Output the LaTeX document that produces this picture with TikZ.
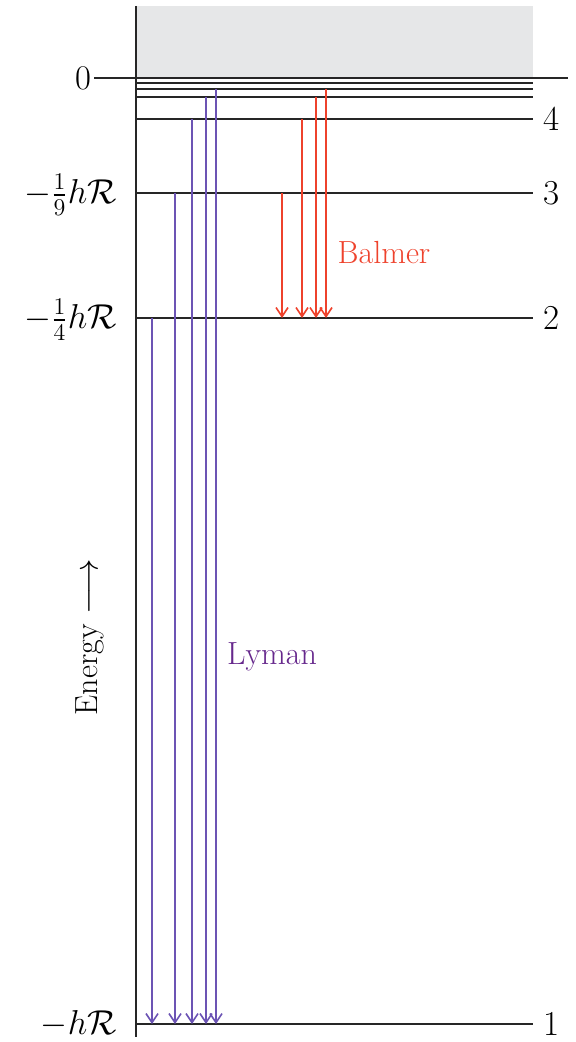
\documentclass[tikz,border=0pt]{standalone}
\usepackage{xcolor}
\usepackage{amsmath}
\usepackage{tikz}
\usetikzlibrary{arrows.meta, positioning, calc}
\definecolor{lymanviolet}{RGB}{108,84,180}
\definecolor{lymantext}{RGB}{102,40,140}
\definecolor{balmerred}{RGB}{238,66,44}
\definecolor{contgray}{RGB}{230,231,232}

\begin{document}
\begin{tikzpicture}[
  x=0.5pt, y=-0.5pt,
  level/.style={line width=1.1pt, color=black!85},
  lbl/.style={font=\fontsize{16}{19}\selectfont, inner sep=0pt},
  num/.style={font=\fontsize{17.5}{21}\selectfont, inner sep=0pt},
  lyman/.style={-{Straight Barb[length=4.5pt, width=6pt]}, line width=0.8pt, color=lymanviolet},
  balmer/.style={-{Straight Barb[length=4.5pt, width=6pt]}, line width=0.8pt, color=balmerred}
]
\useasboundingbox (0,0) rectangle (575,1042);

%% ── Continuum ───────────────────────────────────────────────────────────
\fill[contgray] (137,6) rectangle (533,78);

%% ── Energy levels ───────────────────────────────────────────────────────
\foreach \n/\y in {0/78, 7/83, 6/89, 5/97, 4/119, 3/193, 2/318, 1/1024} {
  \coordinate (l\n) at (136,\y);
  \coordinate (r\n) at (533,\y);
  \draw[level] (l\n) -- (r\n);
}
\draw[level] (94,78) -- (l0);
\draw[level] (r0) -- (568,78);

%% axis
\draw[level] (136,6) -- (136,1037);

%% ── Level labels ────────────────────────────────────────────────────────
\node[num] (e0) at (83,78) {$0$};
\node[num, anchor=east] (e3) at (117,195) {$-\frac{1}{9}h\mathcal{R}$};
\node[num, anchor=east] (e2) at (117,320) {$-\frac{1}{4}h\mathcal{R}$};
\node[num, anchor=east] (e1) at (117,1024) {$-h\mathcal{R}$};

\node[num] (n4) at (552,119) {4};
\node[num] (n3) at (552,193) {3};
\node[num] (n2) at (552,318) {2};
\node[num] (n1) at (552,1024) {1};

%% ── Transitions ─────────────────────────────────────────────────────────
\foreach \x/\n in {152/2, 175/3, 192/4, 206/5, 216/6}
  \draw[lyman] (\x,0 |- l\n) -- (\x,0 |- l1);

\foreach \x/\n in {282/3, 302/4, 316/5, 326/6}
  \draw[balmer] (\x,0 |- l\n) -- (\x,0 |- l2);

\node[lbl, text=balmerred] (balmer) at (384,253) {Balmer};
\node[lbl, text=lymantext] (lyman) at (272,657) {Lyman};

\node[lbl, rotate=90] (energy) at (90,637) {Energy $\longrightarrow$};

\end{tikzpicture}
\end{document}
